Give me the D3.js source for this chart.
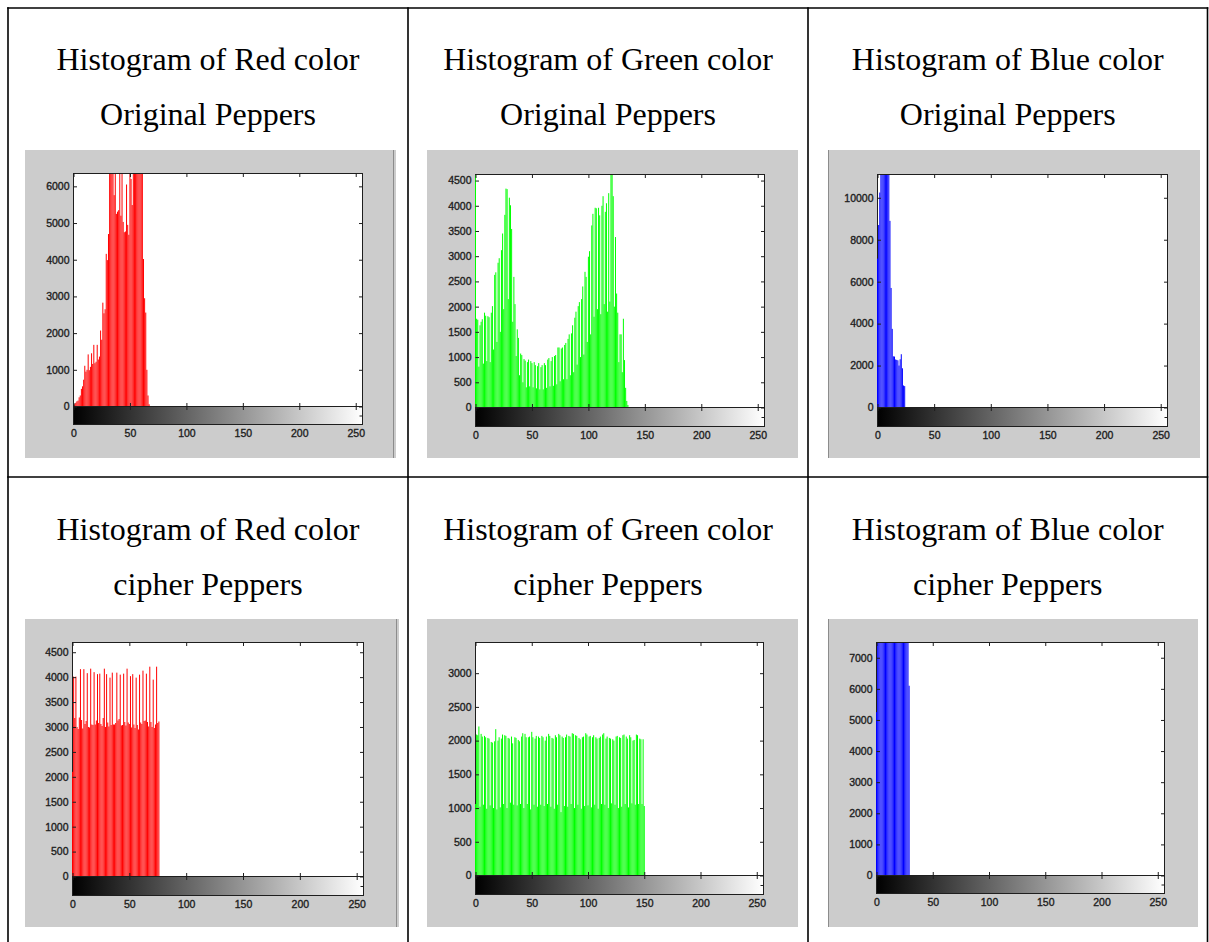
<!DOCTYPE html>
<html>
<head>
<meta charset="utf-8">
<script src="https://cdn.jsdelivr.net/npm/d3@7"></script>
<style>
  html, body { margin: 0; padding: 0; background: #ffffff; }
  svg { display: block; }
</style>
</head>
<body>
<svg id="fig" width="1209" height="942"></svg>
<script>
// ---------------------------------------------------------------
// Pixel counts per gray level (levels not listed are empty).
// ---------------------------------------------------------------
const xTicks = [0, 50, 100, 150, 200, 250];

const redOriginal = [
  0, 60, 100, 140, 160, 250, 300, 480, 550, 730,
  1110, 950, 1000, 1420, 990, 1080, 1450, 1160, 1680, 1180,
  1220, 1680, 1280, 1360, 2070, 1820, 2830, 2540, 2650, 4160,
  3990, 4700, 8200, 8900, 7600, 8400, 5760, 7900, 5250, 5310,
  5350, 7700, 5200, 7400, 5030, 4750, 4770, 6050, 4950, 4680,
  8100, 6200, 5490, 7800, 8600, 8300, 9100, 8700, 8000, 8900,
  8200, 7300, 4020, 2950, 2560, 1000, 300, 60, 0
];

const greenOriginal = [
  5200, 1760, 1740, 810, 1630, 1700, 1750, 870, 1880, 1820,
  920, 1810, 1790, 900, 1880, 2010, 1150, 2630, 2680, 1300,
  2870, 2960, 1500, 3120, 3450, 1950, 3820, 4340, 4330, 2150,
  4160, 4010, 3540, 1700, 2590, 2050, 1020, 1550, 1380, 640,
  1070, 1040, 500, 960, 930, 400, 900, 950, 420, 920,
  880, 400, 900, 840, 380, 820, 880, 360, 800, 840,
  360, 880, 840, 390, 950, 980, 420, 920, 1000, 430,
  1020, 1040, 460, 1190, 1190, 520, 1170, 1190, 560, 1240,
  1280, 560, 1360, 1450, 640, 1470, 1630, 700, 1780, 1900,
  850, 2010, 2090, 1000, 2150, 2400, 1050, 2690, 2590, 1300,
  2990, 3100, 1450, 3610, 3840, 1800, 3960, 3950, 1950, 3960,
  3810, 1850, 4000, 4190, 2050, 3880, 4050, 1900, 4250, 2100,
  4900, 4700, 4190, 2000, 3380, 2260, 1880, 900, 1450, 1450,
  700, 1760, 940, 390, 130, 50
];

const blueOriginal = [
  7100, 8700, 10250, 22000, 25500, 24000, 27000, 26500, 23500, 25000,
  19000, 8900, 5700, 3750, 2440, 2430, 2290, 2270, 2250, 2000,
  2300, 2540, 1870, 1050, 1020, 0
];

const redCipher = [
  2100, 4010, 3180, 4010, 3000, 2960, 3190, 4160, 3140, 2970,
  4160, 3060, 3120, 4080, 3000, 2990, 4170, 3050, 3040, 4100,
  3050, 3130, 4060, 3080, 4070, 3060, 3020, 3180, 4170, 3000,
  4060, 3090, 3010, 3990, 3040, 4090, 3050, 3050, 3080, 4090,
  3130, 3160, 4050, 3030, 3040, 4070, 3100, 3030, 4170, 3090,
  3060, 4020, 2990, 4060, 3050, 2980, 3990, 3040, 2950, 4050,
  3090, 3060, 4130, 3120, 3130, 4070, 3100, 3010, 4210, 3100,
  3000, 3950, 2980, 3050, 4210, 3080, 3110, 0
];

const greenCipher = [
  1060, 2090, 2080, 2210, 1020, 2100, 2060, 1050, 2070, 2050,
  990, 2040, 2030, 1040, 1980, 1970, 1000, 1990, 2170, 980,
  2000, 2050, 1010, 2030, 2090, 1060, 2080, 2070, 1000, 2040,
  2030, 1080, 2060, 1960, 1050, 2050, 2040, 1040, 2010, 1990,
  1060, 2060, 2110, 1000, 2100, 2050, 1060, 2050, 2060, 980,
  2130, 2050, 1050, 2030, 2070, 1020, 2060, 2040, 1050, 2070,
  2050, 1030, 2000, 2060, 1060, 2100, 2070, 1020, 2040, 2030,
  990, 2080, 2050, 1050, 2100, 2080, 940, 2060, 2040, 1030,
  2050, 2090, 1020, 2070, 2060, 1060, 2110, 2100, 1000, 2080,
  2070, 1050, 2040, 2020, 990, 2050, 2060, 1030, 2110, 2090,
  1040, 2060, 2070, 1010, 2050, 2080, 1050, 2050, 2030, 990,
  2040, 2060, 1060, 2090, 2110, 1050, 2030, 2060, 1000, 2040,
  2030, 1070, 2020, 2000, 1050, 2060, 2070, 1000, 2050, 2040,
  1020, 2080, 2090, 1060, 2060, 2030, 1010, 2080, 2050, 1070,
  2000, 2010, 1050, 2090, 2080, 1060, 2030, 2020, 1060, 2020,
  1030
];

const blueCipher = [
  5250, 9100, 8800, 9300, 8700, 9000, 9200, 8900, 8600, 9400,
  8800, 9100, 8900, 9000, 9300, 8700, 9000, 8800, 9200, 9100,
  8900, 8700, 9000, 9300, 8800, 9100, 8900, 9000, 8600, 6100
];

// y-axis tick values and upper limits of each histogram
const yTicksRedOriginal   = [0, 1000, 2000, 3000, 4000, 5000, 6000];
const yTicksGreenOriginal = [0, 500, 1000, 1500, 2000, 2500, 3000, 3500, 4000, 4500];
const yTicksBlueOriginal  = [0, 2000, 4000, 6000, 8000, 10000];
const yTicksRedCipher     = [0, 500, 1000, 1500, 2000, 2500, 3000, 3500, 4000, 4500];
const yTicksGreenCipher   = [0, 500, 1000, 1500, 2000, 2500, 3000];
const yTicksBlueCipher    = [0, 1000, 2000, 3000, 4000, 5000, 6000, 7000];
const yLimits = [6350, 4620, 11110, 4695, 3455, 7490];

// cell captions
const titleTop    = ["Histogram of Red color", "Histogram of Green color", "Histogram of Blue color",
                     "Histogram of Red color", "Histogram of Green color", "Histogram of Blue color"];
const titleBottom = ["Original Peppers", "Original Peppers", "Original Peppers",
                     "cipher Peppers", "cipher Peppers", "cipher Peppers"];
const channelColors = ["#ff0000", "#00ff00", "#0000ff", "#ff0000", "#00ff00", "#0000ff"];

// ---------------------------------------------------------------
// Layout
// ---------------------------------------------------------------
const svg = d3.select("#fig");
const INK = "#1e1e1e";

const colX = [8, 408, 808, 1207.5];
const rowY = [8, 477];
const titleBase = [[70, 125], [540, 595]];

// figure panels: gray window + axes box (L/R/T), zero line Z, colour bar bottom B
const frames = [
  { px: 25,  py: 150, pw: 371, ph: 308, L: 73.5,  R: 362.5,  T: 173.5, Z: 406.5, B: 424.5, edge: 393.5 },
  { px: 427, py: 150, pw: 371, ph: 308, L: 475.5, R: 764.5,  T: 174.5, Z: 407.5, B: 426.5, edge: null },
  { px: 828, py: 150, pw: 372, ph: 308, L: 877.5, R: 1167.5, T: 174.5, Z: 407.5, B: 426.5, edge: 828.5 },
  { px: 25,  py: 619, pw: 374, ph: 308, L: 72.5,  R: 363.5,  T: 642.5, Z: 876.5, B: 895.5, edge: 396.5 },
  { px: 427, py: 619, pw: 371, ph: 308, L: 475.5, R: 763.5,  T: 642.5, Z: 875.5, B: 894.5, edge: null },
  { px: 828, py: 619, pw: 370, ph: 308, L: 876.5, R: 1164.5, T: 642.5, Z: 875.5, B: 893.5, edge: 828.5 }
];

const seriesList = [redOriginal, greenOriginal, blueOriginal, redCipher, greenCipher, blueCipher];
const yTickList = [yTicksRedOriginal, yTicksGreenOriginal, yTicksBlueOriginal,
                   yTicksRedCipher, yTicksGreenCipher, yTicksBlueCipher];

// full 256-level histogram from the listed counts
function levels(counts) {
  return d3.range(256).map(k => ({ level: k, count: k < counts.length ? counts[k] : 0 }));
}

const defs = svg.append("defs");

function styleAxis(sel) {
  sel.select(".domain").remove();
  sel.attr("font-family", "'Liberation Sans', Arial, sans-serif")
     .attr("font-size", 10.5);
  sel.selectAll(".tick line").attr("stroke", INK).attr("stroke-width", 1);
  sel.selectAll(".tick text").attr("fill", INK)
     .attr("stroke", INK).attr("stroke-width", 0.35);
}

function drawHistogram(i) {
  const f = frames[i];
  const data = levels(seriesList[i]);
  const g = svg.append("g").attr("class", "panel");

  // window background
  g.append("rect").attr("x", f.px).attr("y", f.py).attr("width", f.pw).attr("height", f.ph)
    .attr("fill", "#cccccc");
  if (f.edge !== null) {
    g.append("line").attr("x1", f.edge).attr("x2", f.edge).attr("y1", f.py).attr("y2", f.py + f.ph)
      .attr("stroke", "#8c8c8c").attr("stroke-width", 1);
  }

  const x = d3.scaleLinear().domain([0, 256]).range([f.L, f.R]);
  const y = d3.scaleLinear().domain([0, yLimits[i]]).range([f.Z, f.T]);

  // plot area
  g.append("rect").attr("x", f.L).attr("y", f.T).attr("width", f.R - f.L).attr("height", f.Z - f.T)
    .attr("fill", "#ffffff");

  // gray-level colour bar
  const gid = "ramp" + i;
  const grad = defs.append("linearGradient").attr("id", gid)
    .attr("gradientUnits", "userSpaceOnUse")
    .attr("x1", x(0)).attr("x2", x(256)).attr("y1", 0).attr("y2", 0);
  grad.append("stop").attr("offset", "0%").attr("stop-color", "#000000");
  grad.append("stop").attr("offset", "100%").attr("stop-color", "#ffffff");
  g.append("rect").attr("x", f.L).attr("y", f.Z).attr("width", f.R - f.L).attr("height", f.B - f.Z)
    .attr("fill", `url(#${gid})`);

  // box outlines
  g.append("rect").attr("x", f.L).attr("y", f.T).attr("width", f.R - f.L).attr("height", f.Z - f.T)
    .attr("fill", "none").attr("stroke", INK).attr("stroke-width", 1);
  g.append("rect").attr("x", f.L).attr("y", f.Z).attr("width", f.R - f.L).attr("height", f.B - f.Z)
    .attr("fill", "none").attr("stroke", INK).attr("stroke-width", 1);

  // stems, clipped to the plot area
  const cid = "clip" + i;
  defs.append("clipPath").attr("id", cid).append("rect")
    .attr("x", f.L - 1).attr("y", f.T + 0.5).attr("width", f.R - f.L + 1).attr("height", f.Z - f.T - 1);
  g.append("g").attr("clip-path", `url(#${cid})`)
    .selectAll("line").data(data.filter(d => d.count > 0)).join("line")
    .attr("x1", d => x(d.level)).attr("x2", d => x(d.level))
    .attr("y1", y(0)).attr("y2", d => y(d.count))
    .attr("stroke", channelColors[i]).attr("stroke-width", 1);

  const yt = yTickList[i];
  // left axis with labels, ticks pointing inward
  g.append("g").attr("transform", `translate(${f.L},0)`)
    .call(d3.axisLeft(y).tickValues(yt).tickSizeInner(-3.5).tickSizeOuter(0).tickPadding(4)
      .tickFormat(d3.format("d")))
    .call(styleAxis);
  // right axis ticks
  g.append("g").attr("transform", `translate(${f.R},0)`)
    .call(d3.axisRight(y).tickValues(yt).tickSizeInner(-3.5).tickSizeOuter(0).tickFormat(""))
    .call(styleAxis);
  // top ticks
  g.append("g").attr("transform", `translate(0,${f.T})`)
    .call(d3.axisTop(x).tickValues(xTicks).tickSizeInner(-3.5).tickSizeOuter(0).tickFormat(""))
    .call(styleAxis);
  // ticks on the zero line, up into the plot and down into the colour bar
  g.append("g").attr("transform", `translate(0,${f.Z})`)
    .call(d3.axisBottom(x).tickValues(xTicks).tickSizeInner(-3.5).tickSizeOuter(0).tickFormat(""))
    .call(styleAxis);
  g.append("g").attr("transform", `translate(0,${f.Z})`)
    .call(d3.axisTop(x).tickValues(xTicks).tickSizeInner(-3.5).tickSizeOuter(0).tickFormat(""))
    .call(styleAxis);
  // gray-level labels under the colour bar
  g.append("g").attr("transform", `translate(0,${f.B})`)
    .call(d3.axisBottom(x).tickValues(xTicks).tickSizeInner(0).tickSizeOuter(0).tickPadding(5)
      .tickFormat(d3.format("d")))
    .call(styleAxis);
  // colour bar side tick
  const yc = d3.scaleLinear().domain([0, 1]).range([f.B, f.Z]);
  g.append("g").attr("transform", `translate(${f.R},0)`)
    .call(d3.axisRight(yc).tickValues([0.5]).tickSizeInner(-3).tickSizeOuter(0).tickFormat(""))
    .call(styleAxis);
}

d3.range(6).forEach(drawHistogram);

// captions
d3.range(6).forEach(i => {
  const col = i % 3, row = Math.floor(i / 3);
  const cx = (colX[col] + colX[col + 1]) / 2;
  const t = svg.append("g")
    .attr("font-family", "'Liberation Serif', 'Times New Roman', serif")
    .attr("font-size", 32).attr("fill", "#000000").attr("text-anchor", "middle");
  t.append("text").attr("x", cx).attr("y", titleBase[row][0]).text(titleTop[i]);
  t.append("text").attr("x", cx).attr("y", titleBase[row][1]).text(titleBottom[i]);
});

// table rules
const rules = svg.append("g").attr("stroke", "#000000").attr("stroke-width", 1.6);
colX.forEach(cx => rules.append("line").attr("x1", cx).attr("x2", cx).attr("y1", rowY[0] - 0.8).attr("y2", 942));
rowY.forEach(ry => rules.append("line").attr("x1", colX[0] - 0.8).attr("x2", colX[3] + 0.8).attr("y1", ry).attr("y2", ry));
</script>
</body>
</html>
